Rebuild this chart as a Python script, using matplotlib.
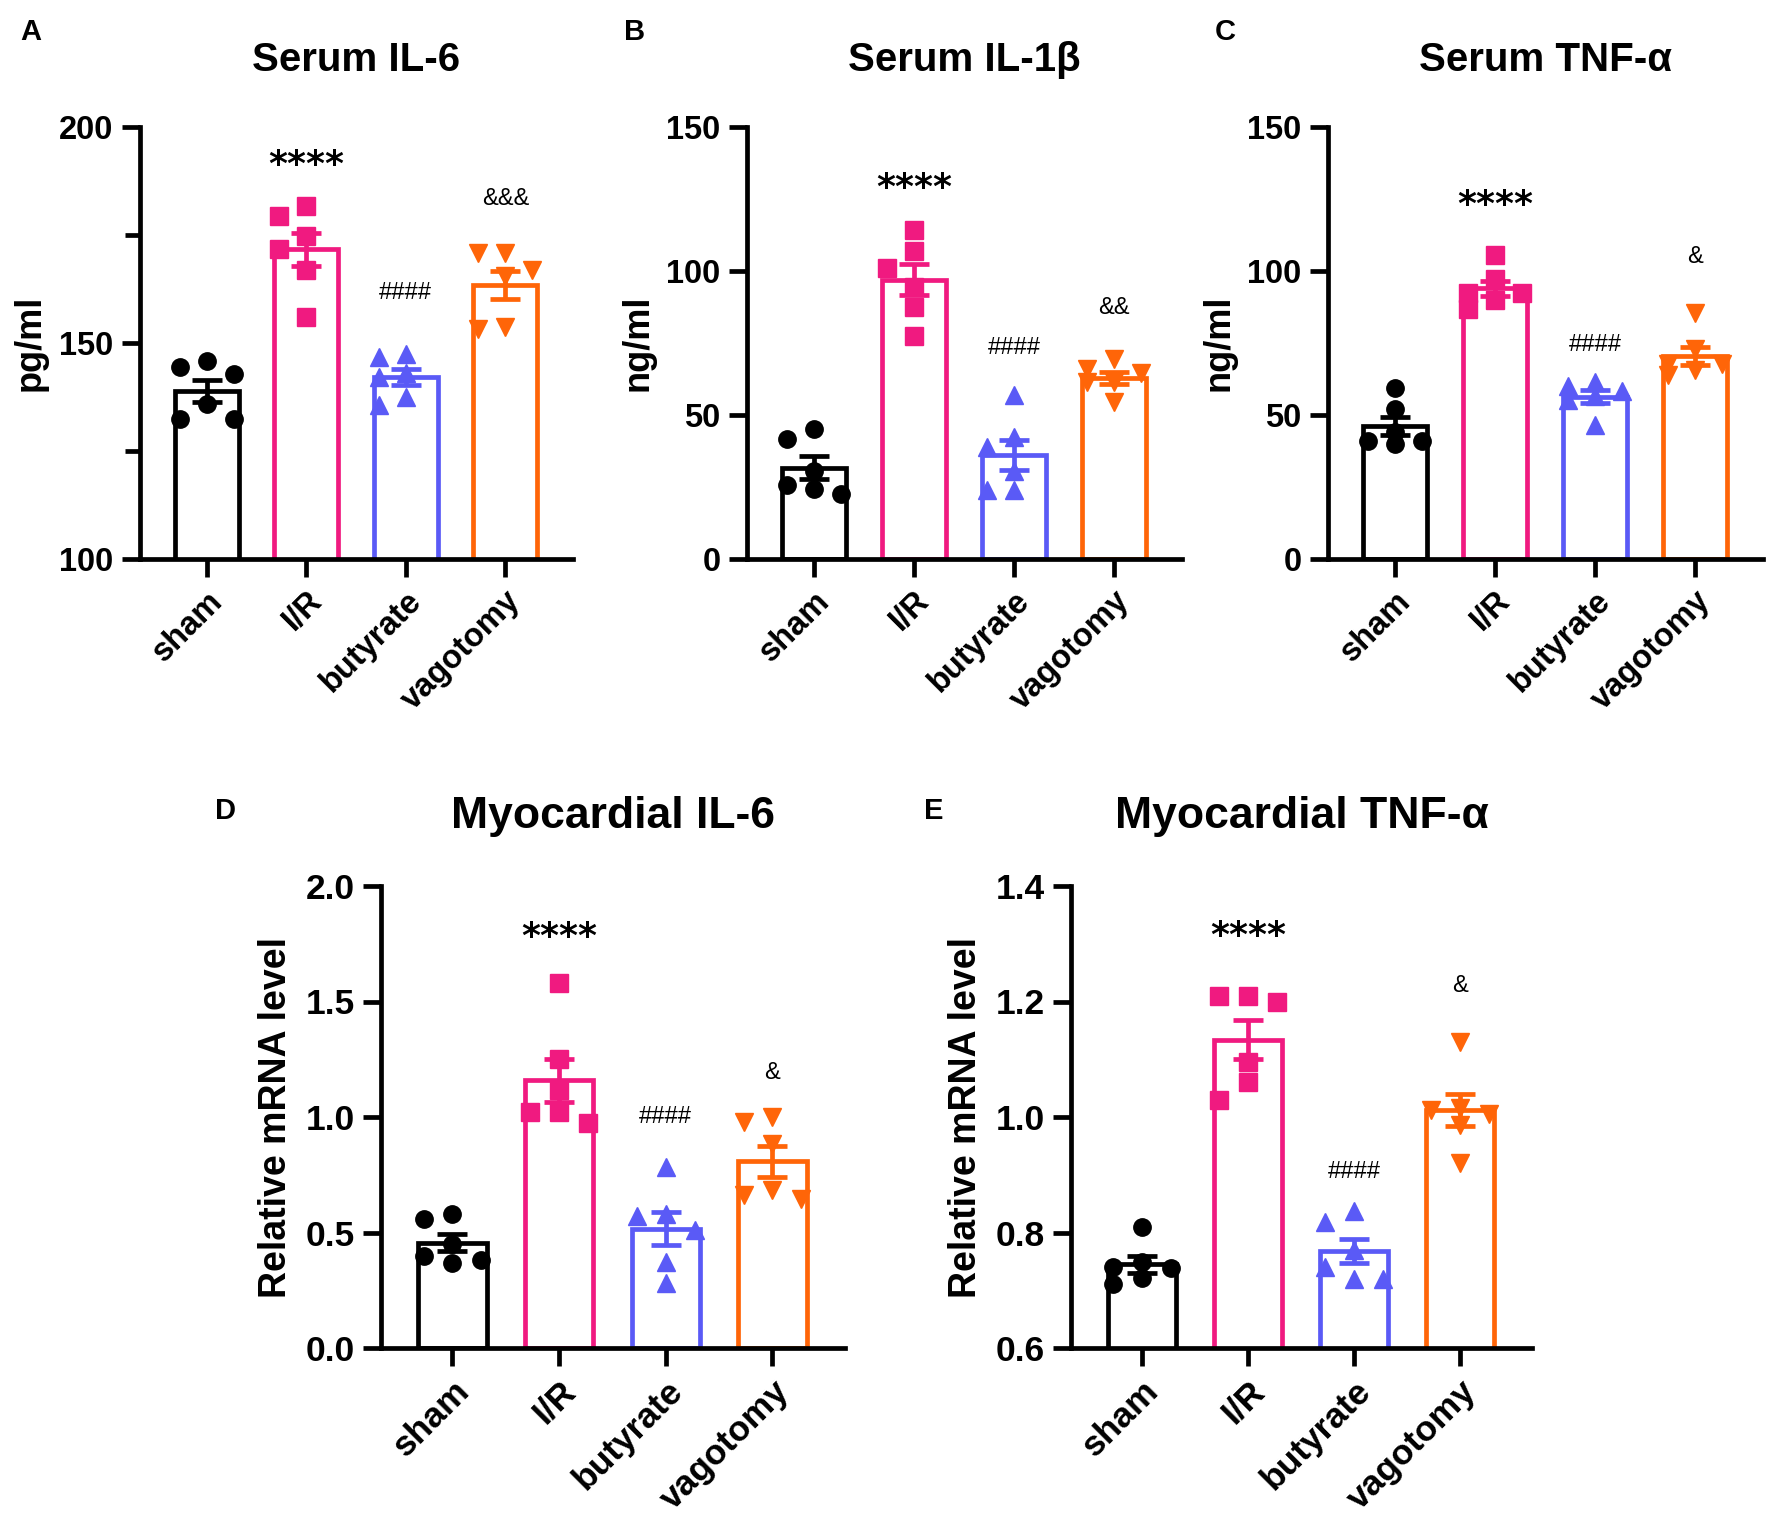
import numpy as np
import matplotlib
matplotlib.use("Agg")
import matplotlib.pyplot as plt
from matplotlib.ticker import MultipleLocator, FormatStrFormatter

plt.rcParams['font.family'] = ['Liberation Sans', 'DejaVu Sans']

# ---------------- data ----------------
groups = ["sham", "I/R", "butyrate", "vagotomy"]

a_sham = [144.5, 142.9, 145.8, 132.3, 132.3, 135.9]
a_ir = [179.4, 181.7, 174.8, 171.7, 166.9, 156.0]
a_but = [146.8, 147.4, 142.1, 143.1, 135.7, 137.6]
a_vag = [170.8, 170.8, 165.5, 166.9, 153.2, 153.7]

b_sham = [22.7, 41.7, 45.3, 25.8, 30.6, 24.2]
b_ir = [114.3, 107.0, 101.1, 94.5, 87.6, 77.3]
b_but = [57.1, 42.2, 39.0, 30.6, 23.8, 23.8]
b_vag = [69.4, 64.7, 65.8, 61.5, 61.5, 54.4]

c_sham = [59.5, 52.0, 44.0, 40.0, 41.0, 41.0]
c_ir = [105.4, 97.1, 92.4, 92.4, 90.0, 86.8]
c_but = [60.2, 61.5, 58.3, 56.7, 55.2, 46.4]
c_vag = [85.3, 72.9, 67.8, 67.8, 65.5, 63.9]

d_sham = [0.56, 0.58, 0.37, 0.40, 0.45, 0.38]
d_ir = [1.58, 1.25, 1.115, 0.973, 1.02, 1.02]
d_but = [0.785, 0.58, 0.57, 0.51, 0.372, 0.282]
d_vag = [0.98, 1.0, 0.885, 0.644, 0.686, 0.661]

e_sham = [0.809, 0.738, 0.740, 0.749, 0.711, 0.721]
e_ir = [1.21, 1.20, 1.21, 1.095, 1.06, 1.03]
e_but = [0.838, 0.818, 0.77, 0.74, 0.719, 0.719]
e_vag = [1.13, 1.012, 1.016, 1.006, 0.987, 0.921]

a_sig = ["****", "####", "&&&"]
a_sig_y = [192, 161.6, 183.3]
b_sig = ["****", "####", "&&"]
b_sig_y = [130, 73.4, 87.2]
c_sig = ["****", "####", "&"]
c_sig_y = [124, 74.2, 105]
d_sig = ["****", "####", "&"]
d_sig_y = [1.795, 1.0, 1.19]
e_sig = ["****", "####", "&"]
e_sig_y = [1.319, 0.905, 1.227]

# ---------------- style ----------------
colors = ["#000000", "#F01A80", "#5A5AF6", "#FF6508"]
markers = ["o", "s", "^", "v"]

W, H = 1772, 1520
fig = plt.figure(figsize=(W / 100, H / 100), dpi=100)


def px_axes(left, top, right, bottom):
    return fig.add_axes([left / W, 1 - bottom / H, (right - left) / W, (bottom - top) / H])


def swarm(vals, ppu, step=0.27, diam=18):
    thr = diam / ppu
    order = np.argsort(vals)[::-1]
    placed = []
    offs = np.zeros(len(vals))
    for i in order:
        v = vals[i]
        best, best_d = 0, -1
        for cand in [0, -step, step]:
            d = min([abs(pv - v) for (po, pv) in placed if abs(po - cand) < step * 0.5],
                    default=np.inf)
            if d >= thr:
                best = cand
                break
            if d > best_d:
                best, best_d = cand, d
        offs[i] = best
        placed.append((best, v))
    return offs


def panel(ax, data, ylim, ticks, minor, ylabel, title, sigs, sig_y, fmt,
          tsize, lsize, title_size, sig_size, tpad):
    ax.set_xlim(-0.67, 3.68)
    ax.set_ylim(*ylim)
    x = np.arange(4)
    means = [np.mean(d) for d in data]
    sems = [np.std(d, ddof=1) / np.sqrt(len(d)) for d in data]
    for i in range(4):
        ax.bar(x[i], means[i], width=0.64, facecolor="white", edgecolor=colors[i],
               linewidth=3.4, zorder=1)
    fig.canvas.draw()
    ppu = ax.bbox.height / (ylim[1] - ylim[0])
    for i in range(4):
        offs = swarm(np.array(data[i]), ppu)
        ax.plot(x[i] + offs, data[i], linestyle="none", marker=markers[i],
                color=colors[i], markersize=12.5, zorder=3, clip_on=False)
        ax.errorbar(x[i], means[i], yerr=sems[i], color=colors[i], capsize=11,
                    elinewidth=3.4, capthick=3.4, zorder=4, fmt="none")
    for sx, lab, yy in zip([1, 2, 3], sigs, sig_y):
        if lab.startswith("*"):
            ax.text(sx, yy, lab, ha="center", va="center_baseline", fontsize=sig_size,
                    color="black", family=["DejaVu Sans"], fontweight="bold")
        else:
            ax.text(sx, yy, lab, ha="center", va="center", fontsize=17,
                    color="black")
    for s in ["top", "right"]:
        ax.spines[s].set_visible(False)
    for s in ["left", "bottom"]:
        ax.spines[s].set_linewidth(3.4)
    ax.set_yticks(ticks)
    if minor is not None:
        ax.yaxis.set_minor_locator(MultipleLocator(minor))
        ax.tick_params(axis="y", which="minor", length=11, width=3.4)
    ax.yaxis.set_major_formatter(FormatStrFormatter(fmt))
    ax.set_xticks(x)
    ax.set_xticklabels(groups, rotation=45, ha="right", rotation_mode="anchor",
                       fontsize=tsize, fontweight="bold")
    ax.tick_params(axis="both", which="major", length=13, width=3.4,
                   labelsize=tsize, pad=6)
    for lab in ax.get_yticklabels():
        lab.set_fontweight("bold")
    ax.set_ylabel(ylabel, fontsize=lsize, fontweight="bold", labelpad=8)
    ax.set_title(title, fontsize=title_size, fontweight="bold", pad=tpad)


axA = px_axes(140, 127, 573, 559)
axB = px_axes(747, 127, 1182, 559)
axC = px_axes(1328, 127, 1763, 559)
axD = px_axes(381, 886, 845, 1348)
axE = px_axes(1071, 886, 1532, 1348)

panel(axA, [a_sham, a_ir, a_but, a_vag], (100, 200), [100, 150, 200], 25,
      "pg/ml", "Serum IL-6", a_sig, a_sig_y, "%d", 23.5, 26, 29, 26, 40)
panel(axB, [b_sham, b_ir, b_but, b_vag], (0, 150), [0, 50, 100, 150], None,
      "ng/ml", "Serum IL-1β", b_sig, b_sig_y, "%d", 23.5, 26, 29, 26, 40)
panel(axC, [c_sham, c_ir, c_but, c_vag], (0, 150), [0, 50, 100, 150], None,
      "ng/ml", "Serum TNF-α", c_sig, c_sig_y, "%d", 23.5, 26, 29, 26, 40)
panel(axD, [d_sham, d_ir, d_but, d_vag], (0, 2.0), [0, 0.5, 1.0, 1.5, 2.0], None,
      "Relative mRNA level", "Myocardial IL-6", d_sig, d_sig_y, "%.1f", 25.5, 27, 32, 26, 42)
panel(axE, [e_sham, e_ir, e_but, e_vag], (0.6, 1.4), [0.6, 0.8, 1.0, 1.2, 1.4], None,
      "Relative mRNA level", "Myocardial TNF-α", e_sig, e_sig_y, "%.1f", 25.5, 27, 32, 26, 42)

for lab, (px, py) in zip("ABCDE", [(20, 32), (624, 32), (1215, 32), (215, 811), (924, 811)]):
    fig.text(px / W, 1 - py / H, lab, fontsize=21, fontweight="bold", ha="left", va="center")

fig.savefig("out.png", dpi=100, facecolor="white")
